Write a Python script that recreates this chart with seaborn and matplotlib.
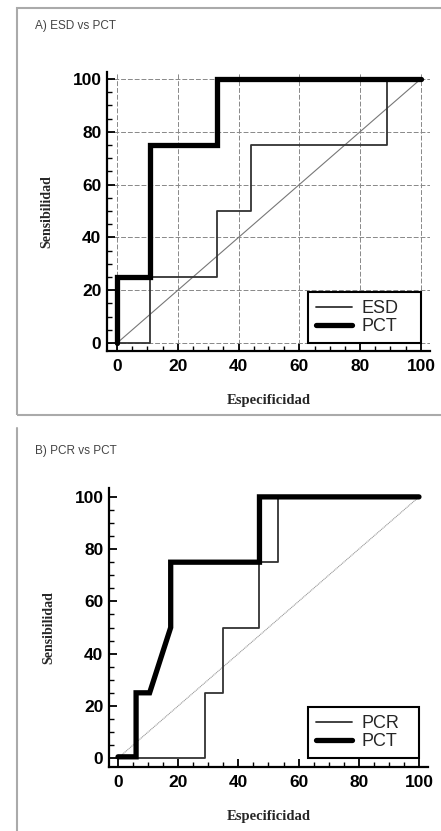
import matplotlib
matplotlib.use('Agg')
import matplotlib.pyplot as plt
from matplotlib.ticker import MultipleLocator
from matplotlib.lines import Line2D
from matplotlib.patches import Rectangle
import pandas as pd
import seaborn as sns

# A) ESD vs PCT
esd_x = [0, 11, 11, 33, 33, 44, 44, 89, 89, 100]
esd_y = [0, 0, 25, 25, 50, 50, 75, 75, 100, 100]
pct_a_x = [0, 0, 11, 11, 33, 33, 100]
pct_a_y = [0, 25, 25, 75, 75, 100, 100]

# B) PCR vs PCT
pcr_x = [0, 29, 29, 35, 35, 47, 47, 53, 53, 100]
pcr_y = [0, 0, 25, 25, 50, 50, 75, 75, 100, 100]
pct_b_x = [0, 6, 6, 10.5, 17.5, 17.5, 47, 47, 100]
pct_b_y = [0.5, 0.5, 25, 25, 50, 75, 75, 100, 100]

diag_x = [0, 100]
diag_y = [0, 100]
ticks = [0, 20, 40, 60, 80, 100]

sns.set_style('white')
plt.rcParams['font.family'] = ['Liberation Sans', 'DejaVu Sans']

fig = plt.figure(figsize=(4.41, 8.31), dpi=100)

def panel(rect, xlim, ylim, thin, thick, names, title, title_y, grid, diag_color, diag_ls, leg_box):
  ax = fig.add_axes(rect)
  sns.lineplot(x=diag_x, y=diag_y, ax=ax, color=diag_color, lw=0.8, ls=diag_ls, sort=False, estimator=None)
  sns.lineplot(x=thin[0], y=thin[1], ax=ax, color='#333333', lw=1.3, sort=False, estimator=None, label=names[0])
  sns.lineplot(x=thick[0], y=thick[1], ax=ax, color='black', lw=3.8, sort=False, estimator=None,
               label=names[1], solid_joinstyle='miter')
  ax.set_xlim(*xlim)
  ax.set_ylim(*ylim)
  ax.set_xticks(ticks)
  ax.set_yticks(ticks)
  ax.xaxis.set_minor_locator(MultipleLocator(5))
  ax.yaxis.set_minor_locator(MultipleLocator(5))
  ax.tick_params(which='both', bottom=True, left=True, top=False, right=False)
  ax.tick_params(which='major', direction='in', length=6, width=1.3, labelsize=12.5, pad=4, colors='black')
  ax.tick_params(which='minor', direction='in', length=3.5, width=1.0, colors='black')
  ax.tick_params(axis='x', which='major', pad=6)
  for lab in ax.get_xticklabels() + ax.get_yticklabels():
    lab.set_fontweight('bold')
  for s in ['top', 'right']:
    ax.spines[s].set_visible(False)
  for s in ['left', 'bottom']:
    ax.spines[s].set_linewidth(1.6)
    ax.spines[s].set_color('black')
  if grid:
    ax.grid(True, which='major', color='#888888', ls=(0, (5, 2)), lw=0.7)
  ax.set_axisbelow(True)
  ax.set_xlabel('Especificidad', family='Liberation Serif', fontweight='bold', fontsize=10.5, labelpad=14)
  ax.set_ylabel('Sensibilidad', family='Liberation Serif', fontweight='bold', fontsize=10, labelpad=14)
  leg = ax.legend(loc='lower left', bbox_to_anchor=leg_box, mode='expand', borderaxespad=0, fancybox=False,
                  edgecolor='black', fontsize=13, handlelength=2.0, handletextpad=0.5,
                  labelspacing=0.05, borderpad=0.45, framealpha=1)
  leg.get_frame().set_linewidth(1.5)
  fig.text(35 / 441, 1 - title_y / 831, title, fontsize=8.5, color='#444444', va='center', ha='left')
  return ax

panel([107 / 441, 1 - 351 / 831, 323 / 441, 279 / 831], (-3.3, 103), (-3, 102.6),
      (esd_x, esd_y), (pct_a_x, pct_a_y), ['ESD', 'PCT'], 'A) ESD vs PCT', 26, True, '#777777', '-',
      ((308 - 107) / 323, 8 / 279, 113 / 323, 53 / 279))
panel([109 / 441, 1 - 767 / 831, 319 / 441, 279 / 831], (-3.0, 103), (-3.4, 103.4),
      (pcr_x, pcr_y), (pct_b_x, pct_b_y), ['PCR', 'PCT'], 'B) PCR vs PCT', 451, False, '#999999', (0, (1, 0.6)),
      ((308 - 109) / 319, 9 / 279, 111 / 319, 53 / 279))

# panel frames
fig.patches.append(Rectangle((17 / 441, 1 - 415 / 831), 430 / 441, 407 / 831, transform=fig.transFigure,
                             fill=False, edgecolor='#aaaaaa', lw=1.5))
fig.lines.append(Line2D([17 / 441, 17 / 441], [1 - 428 / 831, 0], transform=fig.transFigure,
                        color='#aaaaaa', lw=1.5))

fig.savefig('out.png', dpi=100)
